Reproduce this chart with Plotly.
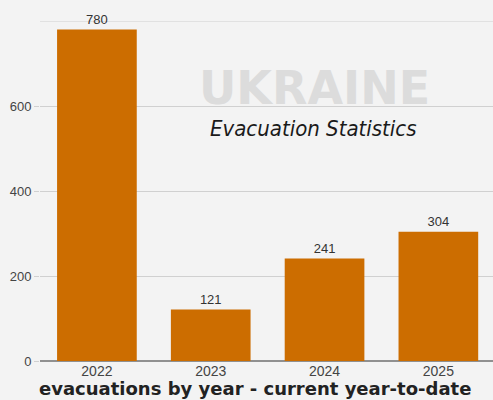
import plotly.graph_objects as go

years = ["2022", "2023", "2024", "2025"]
evacuations = [780, 121, 241, 304]
tick_vals = [0, 200, 400, 600]
tick_text = ["0", "200", "400", "600"]
y_max = 800

fig = go.Figure()
fig.add_trace(go.Bar(
    x=years, y=evacuations,
    marker=dict(color="#cc6d00", line=dict(width=0)),
    text=[str(v) for v in evacuations],
    textposition="outside",
    textfont=dict(family="Liberation Sans, Arial, sans-serif", size=13, color="#333333"),
    cliponaxis=False,
    hoverinfo="skip",
))

fig.update_layout(
    width=493, height=400,
    margin=dict(l=40, r=0, t=0, b=39),
    paper_bgcolor="#f3f3f3",
    plot_bgcolor="rgba(0,0,0,0)",
    bargap=0.3,
    showlegend=False,
    xaxis=dict(
        range=[-0.5, 3.48],
        showgrid=False,
        showline=False,
        ticks="",
        tickfont=dict(family="Liberation Sans, Arial, sans-serif", size=14, color="#444444"),
    ),
    yaxis=dict(
        range=[0, y_max],
        domain=[0, 340 / 361],
        tickvals=tick_vals,
        ticktext=tick_text,
        showgrid=True,
        gridcolor="#d0d0d0",
        gridwidth=1,
        zeroline=True,
        zerolinecolor="#909090",
        zerolinewidth=2,
        ticks="outside",
        ticklen=5,
        tickcolor="#d0d0d0",
        tickfont=dict(family="Liberation Sans, Arial, sans-serif", size=13, color="#444444"),
        showline=False,
    ),
)

fig.add_shape(type="line", xref="paper", yref="y", x0=0, x1=1, y0=y_max, y1=y_max,
              line=dict(color="#d0d0d0", width=1), layer="below")

fig.add_annotation(
    text="UKRAINE", xref="paper", yref="paper", x=0.607, y=0.757,
    showarrow=False, xanchor="center", yanchor="middle",
    font=dict(family="DejaVu Sans, sans-serif", size=46, color="#dcdcdc", weight=800),
)
fig.add_annotation(
    text="Evacuation Statistics", xref="paper", yref="paper", x=0.603, y=0.643,
    showarrow=False, xanchor="center", yanchor="middle",
    font=dict(family="Liberation Sans Narrow, DejaVu Sans Condensed, sans-serif", size=22,
              color="#1a1a1a", style="italic"),
)
fig.add_annotation(
    text="evacuations by year - current year-to-date", xref="paper", yref="paper",
    x=0.475, y=-0.075, showarrow=False, xanchor="center", yanchor="middle",
    font=dict(family="DejaVu Sans, sans-serif", size=18, color="#222222", weight=800),
)

fig.write_html("out.html", config={"displayModeBar": False},
               post_script="document.body.style.margin='0';document.body.style.overflow='hidden';")
